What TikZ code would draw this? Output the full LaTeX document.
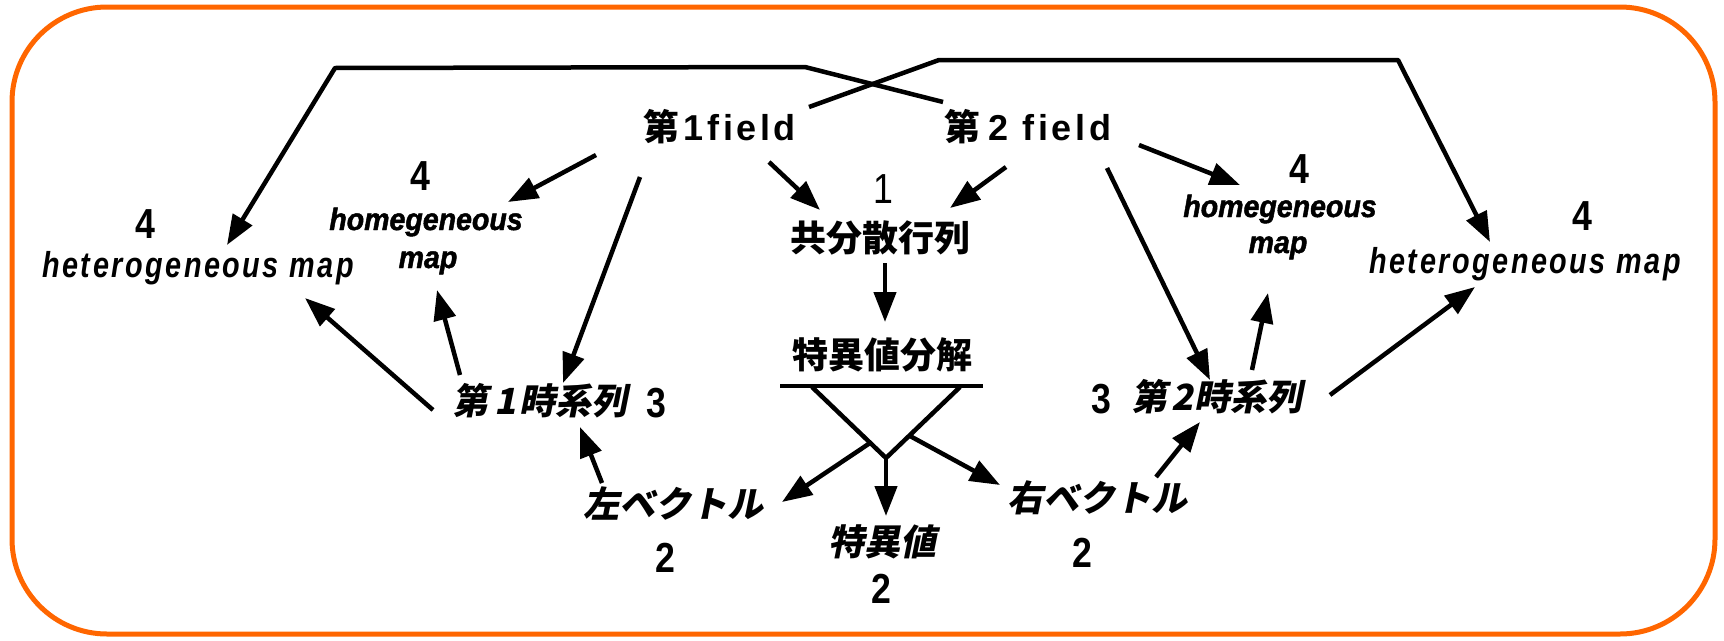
\documentclass[tikz,border=0pt]{standalone}
\usepackage{fontspec}
\usetikzlibrary{arrows.meta}
\newfontfamily\jp{Noto Sans CJK JP}
\newfontfamily\jpsl{Noto Sans CJK JP}[FakeSlant=0.2]
\newfontfamily\latf{Liberation Sans}[LetterSpace=10]
\newfontfamily\lati{Liberation Sans}[FakeStretch=0.8,LetterSpace=7]
\newfontfamily\latn{Liberation Sans}[FakeStretch=0.92,FakeBold=1.5]
\newfontfamily\dig{Liberation Sans}[FakeStretch=0.85]
\definecolor{frameorange}{RGB}{255,102,0}
\tikzset{
  lbl/.style={inner sep=0pt, outer sep=0pt, text=black},
  cjk/.style={lbl, font=\jp\bfseries\fontsize{36}{36}\selectfont},
  cjksl/.style={lbl, font=\jpsl\bfseries\fontsize{36}{36}\selectfont},
  fieldtxt/.style={lbl, anchor=base, font=\fontsize{36}{36}\selectfont},
  hetero/.style={lbl, anchor=base, font=\lati\bfseries\itshape\fontsize{36}{36}\selectfont},
  homog/.style={lbl, anchor=base, font=\latn\bfseries\itshape\fontsize{31}{31}\selectfont},
  num/.style={lbl, anchor=base, font=\dig\bfseries\fontsize{42}{42}\selectfont},
  numthin/.style={lbl, anchor=base, font=\dig\fontsize{42}{42}\selectfont},
  arr/.style={line width=4.5pt, -{Triangle[length=30pt,width=22pt]}},
  ln/.style={line width=4.5pt, line join=round},
}
\begin{document}
\begin{tikzpicture}[x=1pt,y=-1pt]
\useasboundingbox (0,0) rectangle (1724,640);
\draw[frameorange, line width=5pt, rounded corners=95pt] (12,7) rectangle (1715,634);

% text nodes
\node[fieldtxt] (f1) at (720,140) {{\jp\bfseries 第}\hspace{4pt}{\latf\bfseries 1field}};
\node[fieldtxt] (f2) at (1028,140) {{\jp\bfseries 第}\hspace{8pt}{\latf\bfseries 2 field}};
\node[numthin] (n1) at (883,203) {1};
\node[cjk] (cov) at (880,238) {共分散行列};
\node[cjk] (svd) at (882,355) {特異値分解};
\node[cjksl] (lvec) at (673,504) {左ベクトル};
\node[num] (n2a) at (665,572) {2};
\node[cjksl] (sv) at (882,542) {特異値};
\node[num] (n2b) at (881,603) {2};
\node[cjksl] (rvec) at (1097,498) {右ベクトル};
\node[num] (n2c) at (1082,567) {2};
\node[cjksl] (ts1) at (540,401) {第\hspace{6pt}1\hspace{4pt}時系列};
\node[num] (n3a) at (656,417) {3};
\node[cjksl] (ts2) at (1217,397) {第\hspace{4pt}2\hspace{2pt}時系列};
\node[num] (n3b) at (1101,413) {3};
\node[hetero] (hetL) at (198,277) {heterogeneous map};
\node[num] (n4a) at (145,238) {4};
\node[homog] (homL) at (426,230) {homegeneous};
\node[homog] (homLm) at (428,268) {map};
\node[num] (n4b) at (420,190) {4};
\node[homog] (homR) at (1280,217) {homegeneous};
\node[homog] (homRm) at (1278,253) {map};
\node[num] (n4c) at (1299,183) {4};
\node[hetero] (hetR) at (1525,273) {heterogeneous map};
\node[num] (n4d) at (1582,230) {4};

% connector end points
\coordinate (f1a) at (596,155);   \coordinate (homLt) at (508,202);
\coordinate (f1b) at (640,177);   \coordinate (ts1t) at (563,383);
\coordinate (f1c) at (769,162);   \coordinate (covtl) at (820,210);
\coordinate (f2c) at (1006,167);  \coordinate (covtr) at (950,208);
\coordinate (covb) at (885,263);  \coordinate (svdt) at (885,322);
\coordinate (f2a) at (1139,145);  \coordinate (homRt) at (1240,185);
\coordinate (f2b) at (1107,168);  \coordinate (ts2t) at (1210,380);
\coordinate (ts2a) at (1252,370); \coordinate (homRb) at (1268,293);
\coordinate (ts2b) at (1330,395); \coordinate (hetRb) at (1475,287);
\coordinate (ts1a) at (433,410);  \coordinate (hetLb) at (305,298);
\coordinate (ts1b) at (460,375);  \coordinate (homLb) at (437,290);
\coordinate (lveca) at (602,483); \coordinate (ts1bot) at (580,427);
\coordinate (rveca) at (1156,477);\coordinate (ts2bot) at (1200,422);
\coordinate (f1x) at (809,107);   \coordinate (hetRt) at (1490,242);
\coordinate (f2x) at (943,102);   \coordinate (hetLt) at (227,245);
% decomposition
\coordinate (ulL) at (780,386);   \coordinate (ulR) at (983,386);
\coordinate (vL) at (812,387);    \coordinate (vR) at (960,387);
\coordinate (vB) at (886,458);
\coordinate (vLa) at (870,443);   \coordinate (lvect) at (782,502);
\coordinate (vRa) at (910,436);   \coordinate (rvect) at (1000,485);
\coordinate (svt) at (886,516);

\draw[arr] (f1a) -- (homLt);
\draw[arr] (f1b) -- (ts1t);
\draw[arr] (f1c) -- (covtl);
\draw[arr] (f2c) -- (covtr);
\draw[arr] (covb) -- (svdt);
\draw[arr] (f2a) -- (homRt);
\draw[arr] (f2b) -- (ts2t);
\draw[arr] (ts2a) -- (homRb);
\draw[arr] (ts2b) -- (hetRb);
\draw[arr] (ts1a) -- (hetLb);
\draw[arr] (ts1b) -- (homLb);
\draw[arr] (lveca) -- (ts1bot);
\draw[arr] (rveca) -- (ts2bot);
\draw[arr, line join=round] (f1x) -- (939,60) -- (1398,60) -- (hetRt);
\draw[arr, line join=round] (f2x) -- (805,67) -- (335,68) -- (hetLt);

\draw[ln] (ulL) -- (ulR);
\draw[ln] (vL) -- (vB) -- (vR);
\draw[arr] (vLa) -- (lvect);
\draw[arr] (vRa) -- (rvect);
\draw[arr] (vB) -- (svt);
\end{tikzpicture}
\end{document}
